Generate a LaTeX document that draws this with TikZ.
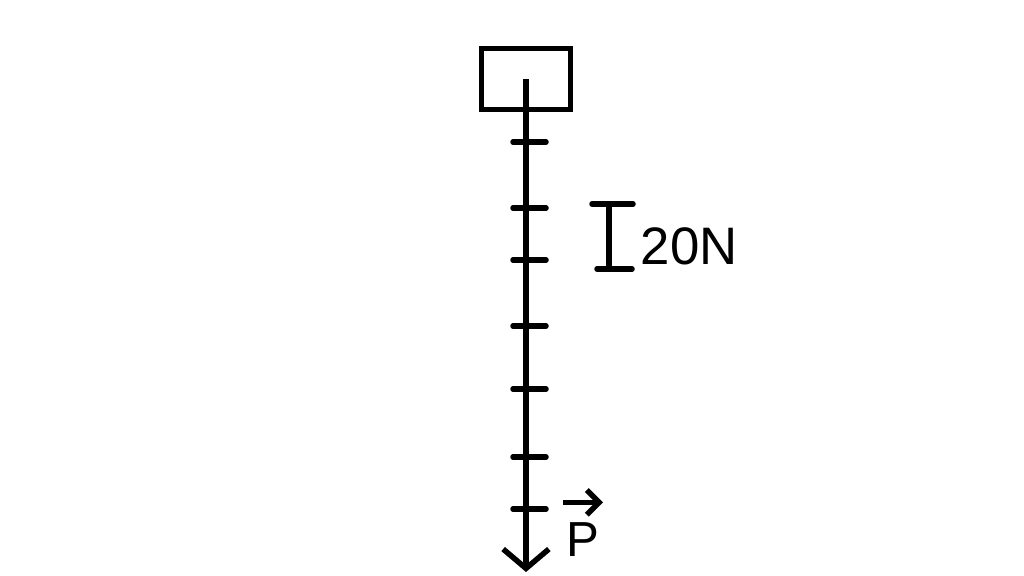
\documentclass[tikz,border=0pt]{standalone}
\usepackage{fontspec}
\setmainfont{Liberation Sans}
\usetikzlibrary{arrows.meta,positioning}

\tikzset{
    heavy/.style={line width=0.55mm},
    tickmark/.style={line width=0.55mm, line cap=round}
}

\begin{document}
\begin{tikzpicture}[x=0.01cm,y=-0.01cm]
                \useasboundingbox (0,0) rectangle (1024,575);

                \node[
                    draw,
                    line width=0.5mm,
                    minimum width=0.88cm,
                    minimum height=0.6cm,
                    inner sep=0pt
                    ] (body) at (526,79) {};

                \coordinate (tip) at (526,572);

                \draw[
                    heavy,
                    -{Straight Barb[length=5.5pt,width=13pt]}
                    ] (body.center) to (tip);

                \foreach \y/\n in {142/1,208/2,260/3,326/4,389/5,457/6,509/7} {
                    \coordinate (t\n) at (529,\y);
                    \draw[tickmark] (t\n) ++(-16,0) -- ++(33,0);
                }

                % scale bar
                \coordinate (sctop) at (609,204);
                \coordinate (scbot) at (609,269);
                \draw[tickmark] (sctop) ++(-17,0) -- ++(41,0);
                \draw[tickmark] (scbot) ++(-12,0) -- ++(35,0);
                \draw[heavy] (sctop) -- (scbot);

                \node[
                    anchor=west,
                    inner sep=0pt,
                    font=\fontsize{15}{18}\selectfont
                    ] (scale) at (640,246) {20N};

                % force label
                \node[
                    inner sep=0pt,
                    font=\fontsize{14}{16}\selectfont
                    ] (weight) at (583,540) {P};
                \draw[
                    heavy,
                    -{Straight Barb[length=3.5pt,width=7pt]}
                    ] ([xshift=-0.2cm,yshift=0.2cm]weight.north) -- ([xshift=0.2cm,yshift=0.2cm]weight.north);

            \end{tikzpicture}
\end{document}
